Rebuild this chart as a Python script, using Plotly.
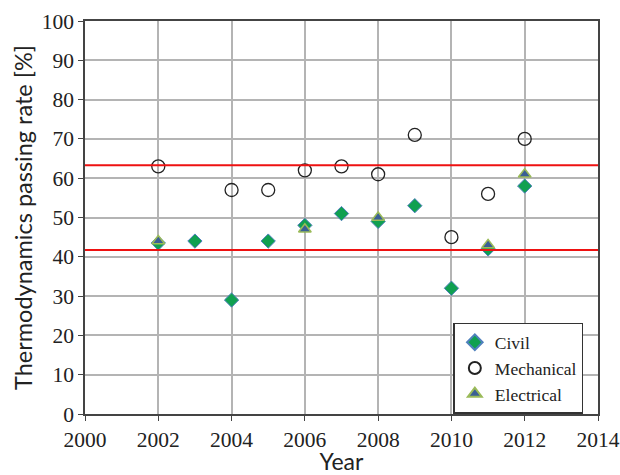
import plotly.graph_objects as go

civil_years = [2002, 2003, 2004, 2005, 2006, 2007, 2008, 2009, 2010, 2011, 2012]
civil_vals = [43.5, 44, 29, 44, 48, 51, 49, 53, 32, 42, 58]
mech_years = [2002, 2004, 2005, 2006, 2007, 2008, 2009, 2010, 2011, 2012]
mech_vals = [63, 57, 57, 62, 63, 61, 71, 45, 56, 70]
elec_years = [2002, 2006, 2008, 2011, 2012]
elec_vals = [44, 47, 50, 43, 61]
ref_lines = [63.3, 41.7]

serif = "Liberation Serif, Times New Roman, serif"
sans = "Lato, Open Sans, Liberation Sans, sans-serif"

fig = go.Figure()
fig.add_trace(go.Scatter(x=civil_years, y=civil_vals, mode="markers", name="Civil",
                         marker=dict(symbol="diamond", size=11, color="#10a050",
                                     line=dict(color="#4f81bd", width=1))))
fig.add_trace(go.Scatter(x=mech_years, y=mech_vals, mode="markers", name="Mechanical",
                         marker=dict(symbol="circle-open", size=13, color="#222222",
                                     line=dict(color="#222222", width=1.3))))
fig.add_trace(go.Scatter(x=elec_years, y=elec_vals, mode="markers", name="Electrical",
                         marker=dict(symbol="triangle-up", size=11, color="#3a5f95",
                                     line=dict(color="#9bbb59", width=1.5))))

for v in ref_lines:
    fig.add_hline(y=v, line=dict(color="#ee1111", width=2))

fig.update_layout(
    width=620, height=475,
    margin=dict(l=85, r=22, t=21, b=61),
    paper_bgcolor="white", plot_bgcolor="white",
    showlegend=True,
    legend=dict(x=0.718, y=0.232, xanchor="left", yanchor="top",
                bgcolor="white", bordercolor="#333333", borderwidth=1.5,
                font=dict(family=serif, size=17.5, color="#222222"),
                tracegroupgap=0, itemsizing="constant", itemwidth=30),
    font=dict(family=serif, color="#222222"),
)
fig.update_xaxes(range=[2000, 2014], tickmode="linear", tick0=2000, dtick=2,
                 showgrid=True, gridcolor="#b4b4b4", gridwidth=1.5,
                 showline=True, linecolor="#444444", linewidth=1.5, mirror=True,
                 ticks="outside", ticklen=5, tickcolor="#444444",
                 tickfont=dict(family=serif, size=21.5, color="#222222"),
                 title=dict(text="Year", font=dict(family=sans, size=23, color="#222222"), standoff=1),
                 zeroline=False, automargin=False)
fig.update_yaxes(range=[0, 100], tickmode="linear", tick0=0, dtick=10,
                 showgrid=True, gridcolor="#b4b4b4", gridwidth=1.5,
                 showline=True, linecolor="#444444", linewidth=1.5, mirror=True,
                 ticks="outside", ticklen=5, tickcolor="#444444",
                 tickfont=dict(family=serif, size=21.5, color="#222222"),
                 title=dict(text="Thermodynamics passing rate [%]",
                            font=dict(family=sans, size=23.5, color="#222222"), standoff=2),
                 zeroline=False, automargin=False)

fig.write_html("out.html", config={"displayModeBar": False},
               post_script="document.body.style.margin='0';document.body.style.overflow='hidden';")
